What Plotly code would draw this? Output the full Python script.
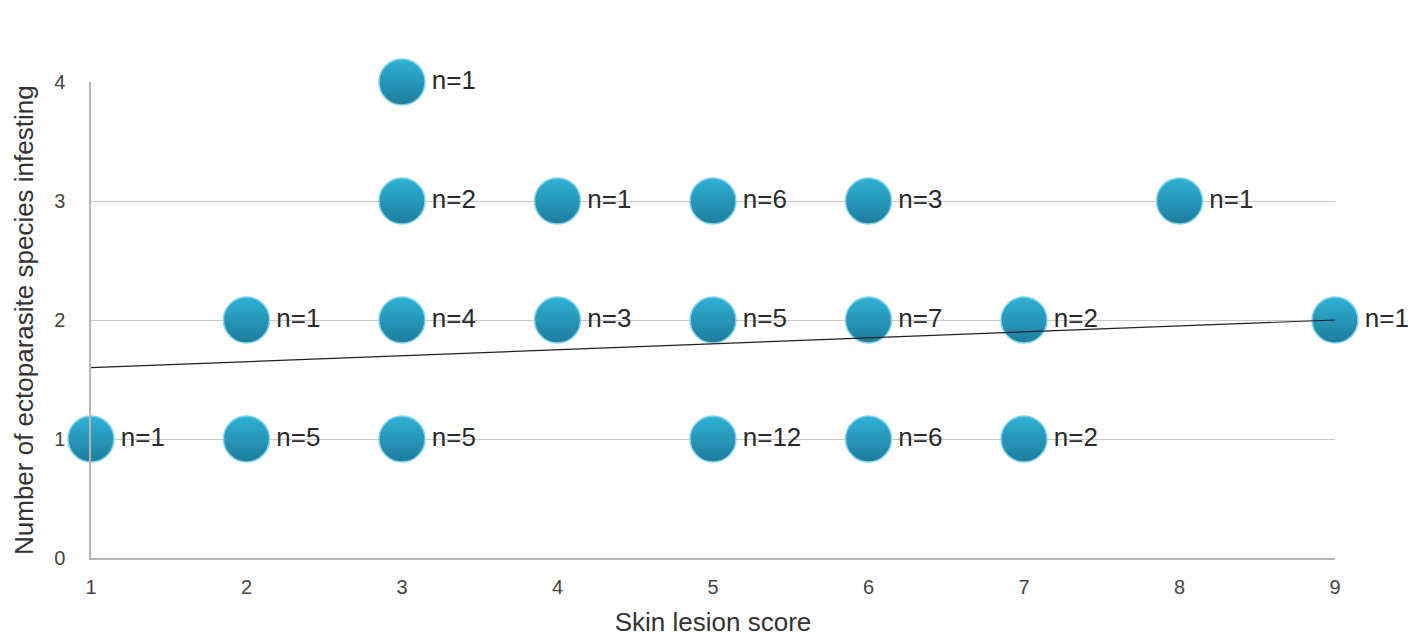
import plotly.graph_objects as go

lesion_score = [1, 2, 2, 3, 3, 3, 3, 4, 4, 5, 5, 5, 6, 6, 6, 7, 7, 8, 9]
species_count = [1, 2, 1, 4, 3, 2, 1, 3, 2, 3, 2, 1, 3, 2, 1, 2, 1, 3, 2]
n_counts = [1, 1, 5, 1, 2, 4, 5, 1, 3, 6, 5, 12, 3, 7, 6, 2, 2, 1, 1]
labels = [f"n={n}" for n in n_counts]

trend_x = [1, 9]
trend_y = [1.6, 2.0]

x_ticks = [1, 2, 3, 4, 5, 6, 7, 8, 9]
y_ticks = [0, 1, 2, 3, 4]

FONT = "Arial, Liberation Sans, sans-serif"

fig = go.Figure()
fig.add_trace(go.Scatter(
    x=lesion_score, y=species_count, mode="markers+text",
    text=labels, textposition="middle right",
    textfont=dict(family=FONT, size=26, color="#2b2b2b"),
    marker=dict(size=46, color="#2eb2d6",
                gradient=dict(type="vertical", color="#1f7c9c"),
                line=dict(color="#7fd3ea", width=1.5)),
    cliponaxis=False, showlegend=False, hoverinfo="skip"))
fig.add_trace(go.Scatter(
    x=trend_x, y=trend_y, mode="lines",
    line=dict(color="#222222", width=1.2),
    cliponaxis=False, showlegend=False, hoverinfo="skip"))

fig.update_layout(
    width=1419, height=637,
    margin=dict(l=83, r=92, t=74, b=87),
    plot_bgcolor="white", paper_bgcolor="white",
    font=dict(family=FONT, color="#444"),
    annotations=[dict(
        text="Number of ectoparasite species infesting",
        xref="paper", yref="paper", x=0, y=0.5, xshift=-67,
        xanchor="center", yanchor="middle", textangle=-90, showarrow=False,
        font=dict(family=FONT, size=26, color="#333"))],
)
fig.update_xaxes(
    range=[1, 9], tickvals=x_ticks, showgrid=False, zeroline=False,
    showline=True, linecolor="#b5b5b5", linewidth=1.5,
    tickfont=dict(size=20, color="#444"), ticklabelstandoff=10,
    title=dict(text="Skin lesion score", font=dict(size=26, color="#333"), standoff=16),
)
fig.update_yaxes(
    range=[0, 4], tickvals=y_ticks, showgrid=True, gridcolor="#c8c8c8", gridwidth=1.2,
    zeroline=False, showline=True, linecolor="#b5b5b5", linewidth=1.5,
    tickfont=dict(size=20, color="#444"), ticklabelstandoff=20,
)

fig.write_html("out.html")
